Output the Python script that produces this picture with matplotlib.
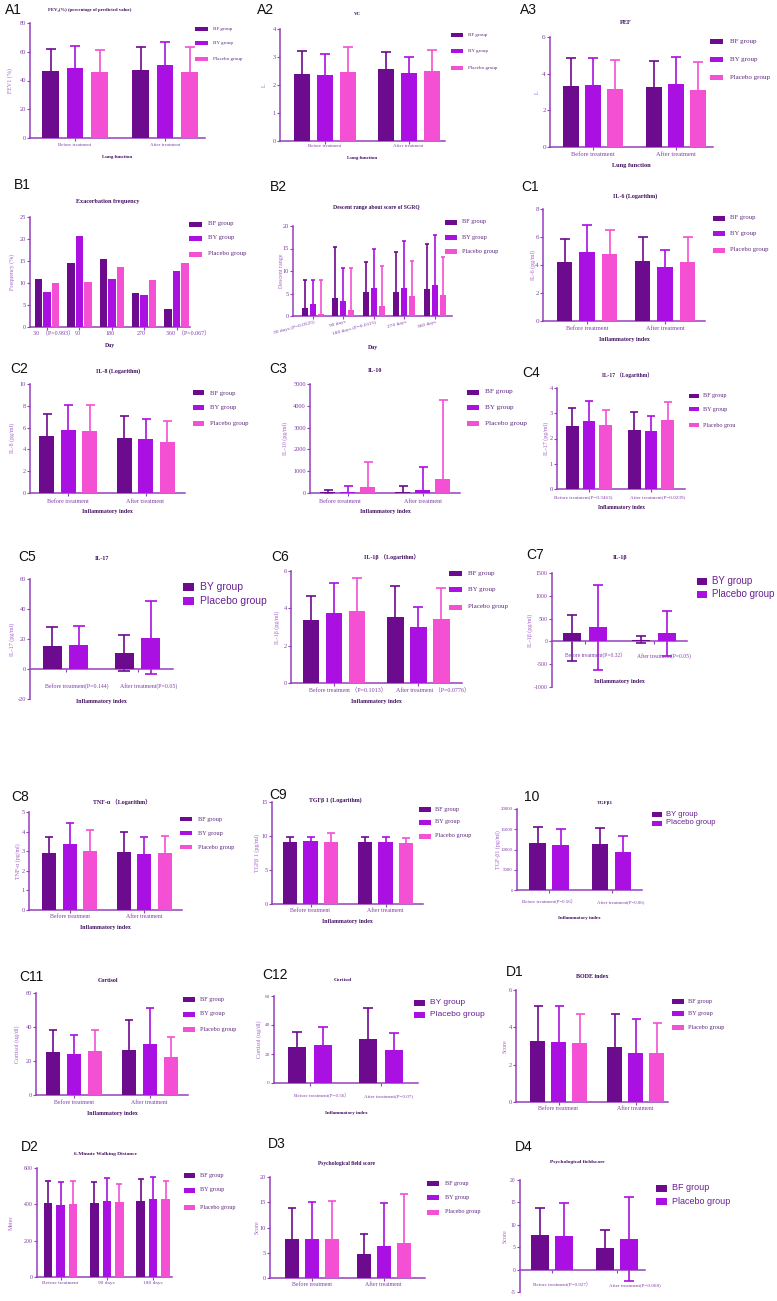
import numpy as np
import matplotlib.pyplot as plt
from matplotlib.patches import Rectangle

plt.rcParams['font.family'] = ['Liberation Serif', 'DejaVu Serif', 'Noto Sans CJK SC']
plt.rcParams['axes.unicode_minus'] = False

W, H = 777, 1301
fig = plt.figure(figsize=(W / 100, H / 100), dpi=100)

BF_C = '#6d0b8f'
BY_C = '#ab10e2'
PL_C = '#f350d3'
AXIS_C = '#9440bc'
TICK_C = '#7f3fa8'
TITLE_C = '#40105f'
LEG_C = '#5c2a7e'
SANS = ['Liberation Sans Narrow', 'Liberation Sans', 'DejaVu Sans']
col3 = [BF_C, BY_C, PL_C]
col2 = [BF_C, BY_C]

# ---------------- data ----------------
treat = ['Before treatment', 'After treatment']
grp3 = ['BF group', 'BY group', 'Placebo group']
grp_by = ['BY group', 'Placebo group']
grp_bf = ['BF group', 'Placebo group']

# A1 FEV1 (% predicted)
fev1_mean = [[46.5, 47.0], [48.5, 50.5], [46.0, 46.0]]
fev1_sd = [[15.5, 16.0], [15.5, 16.5], [15.0, 17.0]]
# A2 VC
vc_mean = [[2.40, 2.57], [2.37, 2.43], [2.45, 2.50]]
vc_sd = [[0.82, 0.61], [0.75, 0.57], [0.92, 0.75]]
# A3 PEF
pef_mean = [[3.33, 3.28], [3.38, 3.44], [3.17, 3.11]]
pef_sd = [[1.53, 1.40], [1.48, 1.48], [1.58, 1.51]]
# B1 exacerbation frequency
days = ['30', '90', '180', '270', '360']
exac = [[11.0, 14.6, 15.5, 7.8, 4.0], [8.0, 20.7, 11.0, 7.2, 12.7], [10.1, 10.2, 13.6, 10.6, 14.5]]
# B2 descent range of SGRQ
sgrq_days = ['30 days (P=0.0525)', '90 days', '180 days (P=0.0115)', '270 days', '360 days']
sgrq_mean = [[1.85, 4.1, 5.3, 5.4, 5.9], [2.6, 3.3, 6.3, 6.3, 7.0], [0.4, 1.3, 2.3, 4.4, 4.7]]
sgrq_sd = [[6.25, 11.2, 6.8, 8.9, 10.0], [5.4, 7.4, 8.6, 10.4, 11.0], [7.7, 9.3, 8.8, 7.8, 8.4]]
# C1 IL-6 (log)
il6_mean = [[4.25, 4.32], [4.92, 3.84], [4.77, 4.25]]
il6_sd = [[1.60, 1.65], [1.91, 1.20], [1.75, 1.72]]
# C2 IL-8 (log)
il8_mean = [[5.20, 5.02], [5.80, 4.98], [5.72, 4.68]]
il8_sd = [[2.08, 2.01], [2.30, 1.81], [2.32, 1.89]]
# C3 IL-10
il10_mean = [[50, 50], [60, 150], [275, 640]]
il10_sd = [[100, 250], [240, 1030], [1125, 3610]]
# C4 IL-17 (log)
c4_labels = ['Before treatment(P=0.3463)', 'After treatment(P=0.0239)']
il17log_mean = [[2.48, 2.35], [2.71, 2.28], [2.52, 2.72]]
il17log_sd = [[0.73, 0.70], [0.79, 0.60], [0.62, 0.73]]
# C5 IL-17
c5_labels = ['Before treatment(P=0.144)', 'After treatment(P=0.05)']
il17_mean = [[15.6, 10.7], [16.0, 20.9]]
il17_sd = [[12.2, 12.0], [12.7, 24.4]]
# C6 IL-1b (log)
c6_labels = ['Before treatment （P=0.1013）', 'After treatment （P=0.0776）']
il1blog_mean = [[3.36, 3.54], [3.77, 3.00], [3.86, 3.45]]
il1blog_sd = [[1.30, 1.64], [1.61, 1.07], [1.78, 1.65]]
# C7 IL-1b
c7_labels = ['Before treatment(P=0.32）', 'After treatment(P=0.05)']
il1b_mean = [[183, 37], [315, 176]]
il1b_up = [[402, 73], [915, 497]]
il1b_low = [[622, 73], [935, 497]]
# C8 TNF-a (log)
tnf_mean = [[2.90, 2.94], [3.38, 2.85], [2.99, 2.92]]
tnf_sd = [[0.85, 1.04], [1.06, 0.87], [1.07, 0.88]]
# C9 TGFb1 (log)
tgflog_mean = [[9.17, 9.07], [9.26, 9.07], [9.07, 8.92]]
tgflog_sd = [[0.63, 0.83], [0.54, 0.83], [1.33, 0.83]]
# C10 TGFb1
c10_labels = ['Before treatment(P=0.56）', 'After treatment(P=0.06)']
tgf_mean = [[11690, 11280], [11110, 9470]]
tgf_sd = [[3950, 3950], [3870, 3860]]
# C11 cortisol
cort3_mean = [[25.4, 26.6], [24.2, 29.9], [26.0, 22.6]]
cort3_sd = [[12.6, 17.3], [11.2, 21.5], [12.4, 11.8]]
# C12 cortisol
c12_labels = ['Before treatment(P=0.56）', 'After treatment(P=0.07)']
cort2_mean = [[24.5, 30.2], [26.1, 22.9]]
cort2_sd = [[11.0, 21.3], [12.8, 11.9]]
# D1 BODE index
bode_mean = [[3.26, 2.92], [3.19, 2.65], [3.17, 2.60]]
bode_sd = [[1.90, 1.78], [1.97, 1.78], [1.53, 1.61]]
# D2 6-minute walking distance
walk_labels = ['Before treatment', '90 days', '180 days']
walk_mean = [[405, 405, 418], [396, 420, 429], [400, 415, 428]]
walk_sd = [[126, 120, 120], [126, 124, 124], [131, 95, 103]]
# D3 psychological field score
psy3_mean = [[7.79, 4.82], [7.79, 6.34], [7.66, 7.00]]
psy3_sd = [[6.07, 3.96], [7.26, 8.51], [7.52, 9.57]]
# D4 psychological field score
d4_labels = ['Before treatment(P=0.927）', 'After treatment(P=0.068)']
psy2_mean = [[7.63, 4.81], [7.56, 6.89]]
psy2_sd = [[6.07, 3.93], [7.40, 9.41]]


# ---------------- helpers ----------------
def ftext(x, y, s, **kw):
    return fig.text(x / W, 1 - y / H, s, **kw)


def letter(x, y, s):
    ftext(x, y, s, fontsize=10, family=['Liberation Sans', 'DejaVu Sans'],
          ha='center', va='center', color='#111111')


def title(x, y, s, size=4.3):
    ftext(x, y, s, fontsize=size, fontweight='bold', ha='center', va='center', color=TITLE_C)


def legend(x, ys, labels, colors, pw=12, ph=5, gap=5, size=4.5, sans=False):
    for y, lab, c in zip(ys, labels, colors):
        fig.add_artist(Rectangle((x / W, 1 - (y + ph / 2) / H), pw / W, ph / H,
                                 transform=fig.transFigure, color=c, lw=0))
        if sans:
            ftext(x + pw + gap, y, lab, fontsize=size, va='center', ha='left',
                  color='#6a1f94', family=SANS)
        else:
            ftext(x + pw + gap, y, lab, fontsize=size, va='center', ha='left', color=LEG_C)


def panel(box, c0, gap, bw, step, means, sds, colors, ylim, ystep, labels,
          lab_dy=7, lab_dx=0.0, lab_size=4.3, tick_size=4.6, low=None, zero=False,
          ylabel='', ylabel_x=None, xlabel='', xlabel_y=None, xl_size=4.2):
    left, right, top, bottom = box
    ax = fig.add_axes([left / W, 1 - bottom / H, (right - left) / W, (bottom - top) / H])
    ax.patch.set_alpha(0)
    n = len(means)
    xg = np.arange(len(means[0]))
    cap = 0.3 * bw * 0.72
    for i in range(n):
        xs = xg + (i - (n - 1) / 2) * step / gap
        if sds is not None:
            err = sds[i] if low is None else [low[i], sds[i]]
            ax.errorbar(xs, means[i], yerr=err, fmt='none', ecolor=colors[i],
                        elinewidth=1.2, capsize=cap, capthick=1.2, zorder=2)
        ax.bar(xs, means[i], width=bw / gap, color=colors[i], linewidth=0, zorder=3)
    ax.set_xlim((left - c0) / gap, (right - c0) / gap)
    ax.set_ylim(ylim)
    ax.set_yticks(np.arange(ylim[0], ylim[1] + ystep / 2, ystep))
    for s in ('top', 'right'):
        ax.spines[s].set_visible(False)
    for s in ('left', 'bottom'):
        ax.spines[s].set_color(AXIS_C)
        ax.spines[s].set_linewidth(1.1)
    if zero:
        ax.spines['bottom'].set_position(('data', 0))
    ax.set_xticks(xg)
    ax.set_xticklabels([])
    ax.tick_params(axis='x', length=2, width=0.8, color=AXIS_C)
    ax.tick_params(axis='y', length=2, width=0.8, color=AXIS_C, labelsize=tick_size,
                   labelcolor=TICK_C, pad=1)
    if labels is not None:
        dxs = lab_dx if np.ndim(lab_dx) else [lab_dx] * len(labels)
        base = 0 if zero else ylim[0]
        for g, lab in enumerate(labels):
            ax.annotate(lab, xy=(g + dxs[g], base), xycoords='data',
                        xytext=(0, -lab_dy * 0.72), textcoords='offset points',
                        ha='center', va='center', fontsize=lab_size, color=TICK_C,
                        annotation_clip=False)
    if ylabel:
        ftext(ylabel_x, (top + bottom) / 2, ylabel, rotation=90, fontsize=4.3,
              ha='center', va='center', color='#a263c8')
    if xlabel:
        ftext((left + right) / 2, xlabel_y, xlabel, fontsize=xl_size, fontweight='bold',
              ha='center', va='center', color=TITLE_C)
    return ax


# ---------------- row 1 ----------------
letter(13, 10, 'A1')
title(90, 10, 'FEV₁(%) (percentage of predicted value)', 3.4)
panel((30, 205, 23, 138), 75, 90, 16.5, 24.5, fev1_mean, fev1_sd, col3, (0, 80), 20, treat,
      lab_dy=7, lab_size=3.5, ylabel='FEV1 (%)', ylabel_x=10,
      xlabel='Lung function', xlabel_y=157, xl_size=3.6)
legend(195, [29, 43, 59], grp3, col3, pw=13, ph=4, gap=5, size=3.6)

letter(266, 10, 'A2')
title(358, 14, 'VC', 3.6)
panel((280, 445, 29, 141), 324.5, 84, 16, 23, vc_mean, vc_sd, col3, (0, 4), 1, treat,
      lab_dy=5, lab_size=3.5, ylabel='L', ylabel_x=264,
      xlabel='Lung function', xlabel_y=158, xl_size=3.6)
legend(451, [35, 51, 68], grp3, col3, pw=12, ph=4, gap=5, size=3.6)

letter(528, 10, 'A3')
title(626, 22, 'PEF', 4.6)
panel((550, 713, 37, 147), 593, 83, 16, 22, pef_mean, pef_sd, col3, (0, 6), 2, treat,
      lab_dy=8, lab_size=4.6, tick_size=5.2, ylabel='L', ylabel_x=537,
      xlabel='Lung function', xlabel_y=166, xl_size=4.6)
legend(710, [41, 59, 77], grp3, col3, pw=13, ph=5, gap=7, size=5.0)

# ---------------- row 2 ----------------
letter(22, 185, 'B1')
title(108, 202, 'Exacerbation frequency', 4.4)
ax_b1 = panel((30, 190, 217, 327), 47, 32.4, 7.5, 8.5, exac, None, col3, (0, 25), 5, None,
              ylabel='Frequency (%)', ylabel_x=12, xlabel='Day', xlabel_y=346)
b1_ticks = [('30  （P=0.993）', -0.42, 'left'), ('90', 0.95, 'center'), ('180', 1.95, 'center'),
            ('270', 2.92, 'center'), ('360  （P=0.067）', 3.66, 'left')]
for lab, xv, ha in b1_ticks:
    ax_b1.annotate(lab, xy=(xv, 0), xytext=(0, -6 * 0.72), textcoords='offset points',
                   ha=ha, va='center', fontsize=4.3, color=TICK_C, annotation_clip=False)
legend(189, [224, 238, 254], grp3, col3, pw=13, ph=5, gap=6, size=4.8)

letter(278, 187, 'B2')
title(376, 207, 'Descent range about score of SGRQ', 4.1)
ax_b2 = panel((293, 452, 226, 316), 313, 30.4, 6, 8, sgrq_mean, sgrq_sd, col3, (0, 20), 5, None,
              ylabel='Descent range', ylabel_x=281, xlabel='Day', xlabel_y=348)
for g, lab in enumerate(sgrq_days):
    ax_b2.annotate(lab, xy=(g + 0.05, 0), xytext=(0, -3), textcoords='offset points',
                   ha='right', va='top', rotation=15, rotation_mode='anchor',
                   fontsize=3.9, color=TICK_C, annotation_clip=False)
legend(445, [222, 237, 251], grp3, col3, pw=12, ph=5, gap=5, size=4.5)

letter(530, 187, 'C1')
title(635, 196, 'IL-6 (Logarithm)')
panel((543, 705, 209, 321), 587, 78, 15.5, 22.5, il6_mean, il6_sd, col3, (0, 8), 2, treat,
      lab_dy=8, lab_size=4.5, tick_size=5, ylabel='IL-6 (pg/ml)', ylabel_x=533,
      xlabel='Inflammatory index', xlabel_y=340)
legend(713, [218, 233, 250], grp3, col3, pw=12, ph=5, gap=5, size=4.8)

# ---------------- row 3 ----------------
letter(19, 369, 'C2')
title(118, 371, 'IL-8 (Logarithm)')
panel((30, 185, 384, 493), 68, 77.5, 15, 21.5, il8_mean, il8_sd, col3, (0, 10), 2, treat,
      lab_dy=8, lab_size=4.4, ylabel='IL-8 (pg/ml)', ylabel_x=12,
      xlabel='Inflammatory index', xlabel_y=512)
legend(193, [393, 407, 423], grp3, col3, pw=11, ph=5, gap=6, size=4.8)

letter(278, 369, 'C3')
title(375, 371, 'IL-10')
panel((310, 460, 384, 493), 347.5, 75, 15, 20, il10_mean, il10_sd, col3, (0, 5000), 1000, treat,
      lab_dy=8, lab_dx=[-0.1, 0.0], lab_size=4.4, ylabel='IL-10 (pg/ml)', ylabel_x=285,
      xlabel='Inflammatory index', xlabel_y=512)
legend(467, [392, 407, 423], grp3, col3, pw=12, ph=5, gap=6, size=5.2)

letter(531, 373, 'C4')
title(627, 375, 'IL-17 （Logarithm）', 4.0)
panel((557, 685, 388, 489), 589, 62, 12.5, 16.7, il17log_mean, il17log_sd, col3, (0, 4), 1,
      c4_labels, lab_dy=8, lab_dx=[-0.1, 0.1], lab_size=3.7, ylabel='IL-17 (pg/ml)',
      ylabel_x=546, xlabel='Inflammatory index', xlabel_y=507, xl_size=4.0)
legend(689, [396, 409, 425], ['BF group', 'BY group', 'Placebo grou'], col3,
       pw=10, ph=4, gap=4, size=4.4)

# ---------------- row 4 ----------------
letter(27, 557, 'C5')
title(102, 559, 'IL-17')
panel((30, 173, 579, 699), 65.5, 72, 19, 26.5, il17_mean, il17_sd, col2, (-20, 60), 20,
      c5_labels, lab_dy=17, lab_dx=0.15, lab_size=4.2, zero=True, ylabel='IL-17 (pg/ml)',
      ylabel_x=12, xlabel='Inflammatory index', xlabel_y=701)
legend(183, [587, 601], grp_by, col2, pw=11, ph=8, gap=6, size=7.5, sans=True)

letter(280, 557, 'C6')
title(392, 557, 'IL-1β （Logarithm）')
panel((291, 462, 571, 683), 334, 84.5, 16.5, 23, il1blog_mean, il1blog_sd, col3, (0, 6), 2,
      c6_labels, lab_dy=7, lab_dx=0.17, lab_size=4.3, ylabel='IL-1β (pg/ml)', ylabel_x=277,
      xlabel='Inflammatory index', xlabel_y=702)
legend(449, [573, 590, 607], grp3, col3, pw=13, ph=5, gap=6, size=5.0)

letter(535, 555, 'C7')
title(620, 557, 'IL-1β')
panel((552, 687, 573, 687), 585, 68.5, 18, 26, il1b_mean, il1b_up, col2, (-1000, 1500), 500,
      c7_labels, lab_dy=15, lab_dx=0.15, lab_size=4.0, tick_size=4.2, low=il1b_low, zero=True,
      ylabel='IL-1β (pg/ml)', ylabel_x=530, xlabel='Inflammatory index', xlabel_y=681)
legend(697, [581, 594], grp_by, col2, pw=10, ph=7, gap=5, size=7.0, sans=True)

# ---------------- row 5 ----------------
letter(20, 797, 'C8')
title(122, 802, 'TNF-α （Logarithm）')
panel((29, 182, 812, 910), 69.5, 74.5, 14, 20.5, tnf_mean, tnf_sd, col3, (0, 5), 1, treat,
      lab_dy=7, lab_size=4.2, ylabel='TNF-α (pg/ml)', ylabel_x=18,
      xlabel='Inflammatory index', xlabel_y=927)
legend(180, [819, 833, 847], grp3, col3, pw=12, ph=4, gap=6, size=4.5)

letter(278, 795, 'C9')
title(335, 800, 'TGFβ 1 (Logarithm)')
panel((272, 423, 802, 904), 310.5, 75, 14.5, 20.5, tgflog_mean, tgflog_sd, col3, (0, 15), 5,
      treat, lab_dy=7, lab_size=4.2, ylabel='TGFβ 1 (pg/ml)', ylabel_x=257,
      xlabel='Inflammatory index', xlabel_y=922)
legend(419, [809, 822, 836], grp3, col3, pw=12, ph=5, gap=4, size=4.5)

letter(532, 797, '10')
title(605, 803, 'TGFβ1', 3.8)
panel((517, 642, 809, 890), 549, 62.5, 16.5, 23, tgf_mean, tgf_sd, col2, (0, 20000), 5000,
      c10_labels, lab_dy=12, lab_dx=[0.0, 0.14], lab_size=3.5, tick_size=3.5,
      ylabel='TGF-β1 (pg/ml)', ylabel_x=498, xlabel='Inflammatory index', xlabel_y=918,
      xl_size=3.6)
legend(652, [814, 823], grp_by, col2, pw=10, ph=5, gap=4, size=5.5, sans=True)

# ---------------- row 6 ----------------
letter(31, 977, 'C11')
title(108, 980, 'Cortisol')
panel((36, 188, 993, 1095), 74, 75.5, 14, 21, cort3_mean, cort3_sd, col3, (0, 60), 20, treat,
      lab_dy=7, lab_size=4.2, ylabel='Cortisol (ug/dl)', ylabel_x=17,
      xlabel='Inflammatory index', xlabel_y=1113)
legend(183, [999, 1014, 1029], grp3, col3, pw=12, ph=5, gap=5, size=4.5)

letter(275, 975, 'C12')
title(343, 980, 'Cortisol', 3.8)
panel((274, 418, 996, 1083), 310, 71, 18, 26, cort2_mean, cort2_sd, col2, (0, 60), 20,
      c12_labels, lab_dy=13, lab_dx=[0.17, 0.11], lab_size=3.6, tick_size=3.8,
      ylabel='Cortisol (ug/dl)', ylabel_x=259, xlabel='Inflammatory index', xlabel_y=1113,
      xl_size=3.6)
legend(414, [1003, 1015], grp_by, col2, pw=11, ph=6, gap=5, size=6.0, sans=True)

letter(515, 972, 'D1')
title(592, 977, 'BODE index')
panel((516, 668, 990, 1102), 558.5, 77, 15, 21, bode_mean, bode_sd, col3, (0, 6), 2, treat,
      lab_dy=6, lab_size=4.2, ylabel='Score', ylabel_x=505)
legend(672, [1001, 1013, 1027], grp3, col3, pw=12, ph=5, gap=4, size=4.5)

# ---------------- row 7 ----------------
letter(30, 1147, 'D2')
title(106, 1154, '6-Minute Walking Distance', 3.9)
panel((37, 172, 1168, 1277), 60.5, 46.3, 8.5, 12.5, walk_mean, walk_sd, col3, (0, 600), 200,
      walk_labels, lab_dy=6, lab_size=3.9, tick_size=4.2, ylabel='Meter', ylabel_x=11)
legend(184, [1175, 1190, 1207], grp3, col3, pw=11, ph=5, gap=5, size=4.4)

letter(277, 1144, 'D3')
title(347, 1164, 'Psychological field score', 4.0)
panel((270, 425, 1177, 1278), 312, 71.5, 14, 20, psy3_mean, psy3_sd, col3, (0, 20), 5, treat,
      lab_dy=7, lab_size=4.2, ylabel='Score', ylabel_x=257)
legend(427, [1183, 1197, 1212], grp3, col3, pw=12, ph=5, gap=6, size=4.4)

letter(524, 1147, 'D4')
title(577, 1162, 'Psychological fieldscore', 3.9)
panel((520, 645, 1180, 1292), 552, 65, 18, 23.5, psy2_mean, psy2_sd, col2, (-5, 20), 5,
      d4_labels, lab_dy=15, lab_dx=[0.15, 0.28], lab_size=3.6, tick_size=4.0, zero=True,
      ylabel='Score', ylabel_x=505)
legend(656, [1188, 1201], grp_bf, col2, pw=11, ph=7, gap=5, size=6.5, sans=True)

fig.savefig('out.png', dpi=100)
